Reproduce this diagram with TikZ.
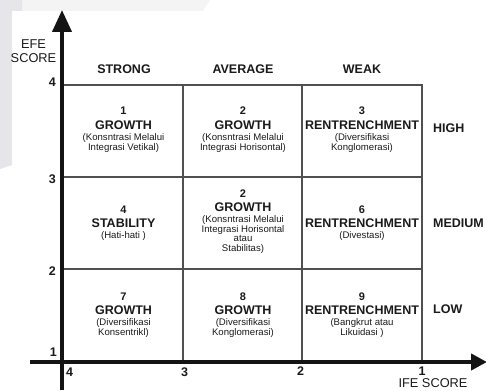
\documentclass[tikz,border=0pt]{standalone}
\usepackage{fontspec}
\setmainfont{Liberation Sans}
\usetikzlibrary{arrows.meta}
\definecolor{txt}{HTML}{1A1A1A}
\definecolor{gridc}{HTML}{505050}
\definecolor{bgdark}{HTML}{E6E6EA}
\definecolor{bglight}{HTML}{F4F4F5}
\newcommand\cellnode[5]{%
  \node[numf] (#1n) at (#2,#3) {#4};
  \node[titf] (#1t) at (#2,#3+14) {#5};}
\newcommand\subline[4]{\node[subf] (#1) at (#2,#3) {#4};}
\begin{document}
\begin{tikzpicture}[x=1pt,y=-1pt,
  gridline/.style={draw=gridc, line width=1.1pt},
  axis/.style={draw=black!92, line width=4pt},
  numf/.style={font=\fontsize{11}{12}\selectfont\bfseries, inner sep=0pt, anchor=base, text=txt},
  titf/.style={font=\fontsize{12.5}{14}\selectfont\bfseries, inner sep=0pt, anchor=base, text=txt},
  subf/.style={font=\fontsize{9.6}{10}\selectfont, inner sep=0pt, anchor=base, text=txt},
  headf/.style={font=\fontsize{12.5}{14}\selectfont\bfseries, inner sep=0pt, anchor=base, text=txt},
  rowf/.style={font=\fontsize{12.5}{14}\selectfont\bfseries, inner sep=0pt, anchor=base west, text=txt},
  tickf/.style={font=\fontsize{12.5}{13}\selectfont\bfseries, inner sep=0pt, text=txt},
  axlab/.style={font=\fontsize{12.8}{13}\selectfont, inner sep=0pt, anchor=base, text=txt}]
\useasboundingbox (0,0) rectangle (486,390);
% faint background
\fill[bglight] (22,0) -- (210,0) -- (203,11) -- (22,11) -- cycle;
\fill[bgdark] (0,0) -- (22,0) -- (22,11) -- (12,11) -- (12,165) -- (0,169) -- cycle;
% grid
\draw[gridline] (62,85) -- (422,85) -- (422,362);
\draw[gridline] (62,177) -- (422,177);
\draw[gridline] (62,269) -- (422,269);
\draw[gridline] (183,85) -- (183,362);
\draw[gridline] (302,85) -- (302,362);
% axes
\coordinate (yb) at (62,390);
\coordinate (yt) at (62,10);
\coordinate (xl) at (30,362);
\coordinate (xr) at (487,362);
\draw[axis, -{Triangle[length=22pt,width=19pt]}] (yb) -- (yt);
\draw[axis, -{Triangle[length=16pt,width=16pt]}] (xl) -- (xr);
% axis labels
\node[axlab] (efe1) at (33.5,49) {EFE};
\node[axlab] (efe2) at (33.5,62.5) {SCORE};
\node[axlab] (ife) at (433,387.5) {IFE SCORE};
% ticks
\node[tickf, anchor=base east] (ty4) at (56,87) {4};
\node[tickf, anchor=base east] (ty3) at (56,183) {3};
\node[tickf, anchor=base east] (ty2) at (56,275) {2};
\node[tickf, anchor=base east] (ty1) at (57,356) {1};
\node[tickf, anchor=base] (tx4) at (69.5,376) {4};
\node[tickf, anchor=base] (tx3) at (184.5,376) {3};
\node[tickf, anchor=base] (tx2) at (300.5,375) {2};
\node[tickf, anchor=base] (tx1) at (422,375) {1};
% headers
\node[headf] (hs) at (124,74) {STRONG};
\node[headf] (ha) at (243,74) {AVERAGE};
\node[headf] (hw) at (362,74) {WEAK};
\node[rowf] (rh) at (433,132) {HIGH};
\node[rowf] (rm) at (433,227) {MEDIUM};
\node[rowf] (rl) at (433,313) {LOW};
% row 1
\cellnode{c1}{123.5}{115}{1}{GROWTH}
\subline{c1a}{123.5}{140}{(Konsntrasi Melalui}
\subline{c1b}{123.5}{150}{Integrasi Vetikal)}
\cellnode{c2}{243}{115}{2}{GROWTH}
\subline{c2a}{243}{140}{(Konsntrasi Melalui}
\subline{c2b}{243}{150}{Integrasi Horisontal)}
\cellnode{c3}{362}{115}{3}{RENTRENCHMENT}
\subline{c3a}{362}{140}{(Diversifikasi}
\subline{c3b}{362}{150}{Konglomerasi)}
% row 2
\cellnode{c4}{123.5}{213}{4}{STABILITY}
\subline{c4a}{123.5}{238}{(Hati-hati )}
\cellnode{c5}{243}{197}{2}{GROWTH}
\subline{c5a}{243}{222}{(Konsntrasi Melalui}
\subline{c5b}{243}{232}{Integrasi Horisontal}
\subline{c5c}{243}{241.5}{atau}
\subline{c5d}{243}{251}{Stabilitas)}
\cellnode{c6}{362}{213}{6}{RENTRENCHMENT}
\subline{c6a}{362}{238}{(Divestasi)}
% row 3
\cellnode{c7}{123.5}{300}{7}{GROWTH}
\subline{c7a}{123.5}{325}{(Diversifikasi}
\subline{c7b}{123.5}{335}{Konsentrikl)}
\cellnode{c8}{243}{300}{8}{GROWTH}
\subline{c8a}{243}{325}{(Diversifikasi}
\subline{c8b}{243}{335}{Konglomerasi)}
\cellnode{c9}{362}{300}{9}{RENTRENCHMENT}
\subline{c9a}{362}{325}{(Bangkrut atau}
\subline{c9b}{362}{335}{Likuidasi )}
\end{tikzpicture}
\end{document}
